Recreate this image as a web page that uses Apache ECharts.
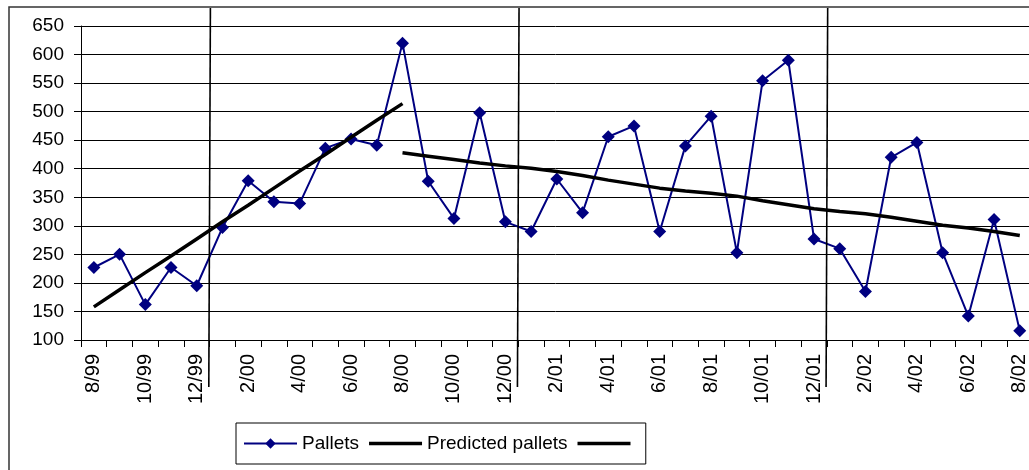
<!DOCTYPE html>
<html>
<head>
<meta charset="utf-8">
<script src="https://cdn.jsdelivr.net/npm/echarts@6/dist/echarts.min.js"></script>
<style>
  html, body { margin: 0; padding: 0; background: #fff; }
  #chart { width: 1029px; height: 470px; }
</style>
</head>
<body>
<div id="chart"></div>
<script>
// Monthly categories, Aug 1999 – Aug 2002
const months = [
  '8/99','9/99','10/99','11/99','12/99',
  '1/00','2/00','3/00','4/00','5/00','6/00','7/00','8/00','9/00','10/00','11/00','12/00',
  '1/01','2/01','3/01','4/01','5/01','6/01','7/01','8/01','9/01','10/01','11/01','12/01',
  '1/02','2/02','3/02','4/02','5/02','6/02','7/02','8/02'
];

// Actual pallets per month
const pallets = [
  227, 250, 162, 227, 195,
  297, 379, 342, 339, 436, 452, 441, 620, 378, 313, 498, 307,
  290, 382, 323, 456, 475, 290, 440, 492, 253, 554, 590, 277,
  260, 185, 420, 446, 253, 142, 311, 116
];

// Predicted pallets, first trend (8/99 – 8/00)
const trendUp = [158, 188, 218, 247, 277, 307, 336, 366, 396, 425, 455, 485, 514];
const trendUpStart = 0;

// Predicted pallets, second trend (8/00 – 8/02)
const trendDown = [
  428, 422, 416, 410, 405, 401, 395, 388, 380, 373, 366, 361, 357,
  352, 344, 337, 330, 325, 321, 315, 308, 301, 296, 290, 283
];
const trendDownStart = 12;

// Year boundaries marked with vertical rules
const yearStarts = ['1/00', '1/01', '1/02'];

const yTicks = { min: 100, max: 650, step: 50 };

function pad(values, start) {
  const out = months.map(() => null);
  values.forEach((v, i) => { out[start + i] = v; });
  return out;
}

const FONT = '"Liberation Sans", Arial, sans-serif';
const chart = echarts.init(document.getElementById('chart'), null, { renderer: 'canvas' });

const catWidth = 25.72;
// plain thick bar used as the legend icon of the trend lines
const barIcon = 'path://M0,0 L53,0 L53,3.5 L0,3.5 Z';

chart.setOption({
  animation: false,
  backgroundColor: '#fff',
  textStyle: { fontFamily: FONT },
  grid: {
    left: 81, top: 26,
    width: catWidth * months.length, height: 314,
    containLabel: false,
    outerBoundsMode: 'none'
  },
  legend: {
    left: 236, top: 423,
    orient: 'horizontal',
    itemWidth: 53, itemHeight: 13, itemGap: 10,
    symbolKeepAspect: true,
    padding: [11, 5, 11, 7],
    borderColor: '#000', borderWidth: 1,
    textStyle: { fontFamily: FONT, fontSize: 19, color: '#000' },
    data: [
      { name: 'Pallets' },
      { name: 'Predicted pallets', icon: barIcon },
      { name: ' ', icon: barIcon }
    ]
  },
  xAxis: {
    type: 'category',
    data: months,
    boundaryGap: true,
    axisLine: { show: true, lineStyle: { color: '#000', width: 1 } },
    axisTick: { show: true, interval: 0, length: 7, lineStyle: { color: '#000' } },
    axisLabel: {
      interval: 1, rotate: 90, margin: 14,
      fontFamily: FONT, fontSize: 20, color: '#000'
    },
    splitLine: { show: false }
  },
  yAxis: {
    type: 'value',
    min: yTicks.min, max: yTicks.max, interval: yTicks.step,
    axisLine: { show: true, lineStyle: { color: '#000', width: 1 } },
    axisTick: { show: true, length: 7, lineStyle: { color: '#000' } },
    axisLabel: { margin: 17, fontFamily: FONT, fontSize: 19, color: '#000' },
    splitLine: { show: true, lineStyle: { color: '#000', width: 1 } }
  },
  series: [
    {
      name: 'Pallets',
      type: 'line',
      data: pallets,
      symbol: 'diamond',
      symbolSize: 13,
      showAllSymbol: true,
      lineStyle: { color: '#000080', width: 2 },
      itemStyle: { color: '#000080' },
      z: 2
    },
    {
      name: 'Predicted pallets',
      type: 'line',
      data: pad(trendUp, trendUpStart),
      symbol: 'none',
      lineStyle: { color: '#000', width: 3.5 },
      itemStyle: { color: '#000' },
      z: 3
    },
    {
      name: ' ',
      type: 'line',
      data: pad(trendDown, trendDownStart),
      symbol: 'none',
      lineStyle: { color: '#000', width: 3.5 },
      itemStyle: { color: '#000' },
      z: 3
    }
  ]
});

// Outer frame plus vertical rules at the start of each year
function drawDecor() {
  const elements = [{
    type: 'rect',
    shape: { x: 9, y: 7, width: 1200, height: 600 },
    style: { fill: null, stroke: '#333', lineWidth: 1.5 },
    silent: true
  }];
  const axisY = chart.convertToPixel({ yAxisIndex: 0 }, yTicks.min);
  yearStarts.forEach((m) => {
    const idx = months.indexOf(m);
    const a = chart.convertToPixel({ xAxisIndex: 0 }, months[idx - 1]);
    const b = chart.convertToPixel({ xAxisIndex: 0 }, months[idx]);
    const x = (a + b) / 2;
    elements.push({
      type: 'line',
      shape: { x1: x + 0.8, y1: 8, x2: x - 0.8, y2: axisY + 47 },
      style: { stroke: '#000', lineWidth: 1.6 },
      z: 10,
      silent: true
    });
  });
  chart.setOption({ graphic: { elements } });
}
drawDecor();
</script>
</body>
</html>
